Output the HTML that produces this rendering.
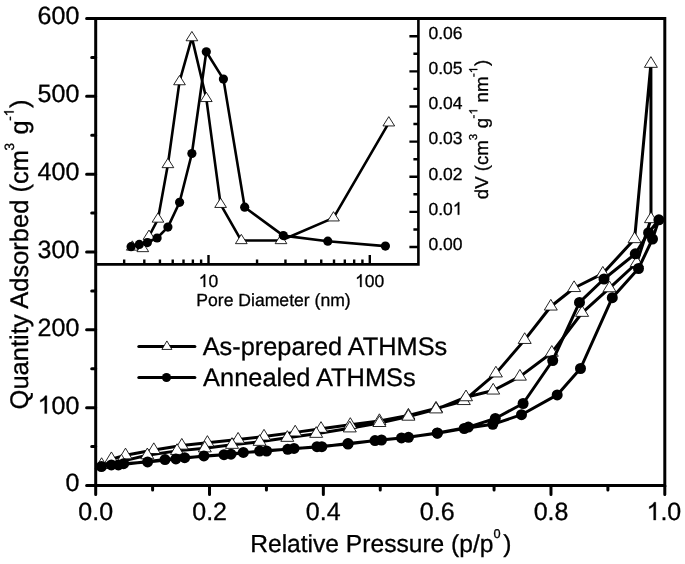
<!DOCTYPE html><html><head><meta charset="utf-8"><style>html,body{margin:0;padding:0;background:#fff;}svg{display:block;will-change:transform;}text{font-family:"Liberation Sans",sans-serif;fill:#000;stroke:#000;stroke-width:0.3px;text-rendering:geometricPrecision;}.h1{fill:none;stroke:none;}.g1{fill:#000;stroke:#000;stroke-width:0.3px;vector-effect:non-scaling-stroke;}</style></head><body>
<svg width="685" height="564" viewBox="0 0 685 564">
<rect width="685" height="564" fill="#fff"/>
<polyline fill="none" stroke="#000" stroke-width="3.0" stroke-linejoin="round" points="111.4,459.08 125.5,455.28 153.8,449.98 181.8,445.58 207.4,442.78 238.1,439.58 264,436.48 295.2,432.38 321,428.78 350.3,424.83 379.4,420.93 408.4,415.53 436,408.53 463.8,400.98 495.9,373.38 524.7,339.88 550.8,306.48 574.1,287.98 602.8,273.58 634.6,239.08 650.9,63.78 651,219.08 636.7,262.98 609.5,288.18 582.1,312.78 551.8,352.68 519.9,376.58 493.2,390.48 466,397.18 436,409.33 408.4,416.63 379.4,422.93 349.8,428.33 316.2,433.78 287.3,437.78 259.6,441.78 232,444.78 204.8,448.28 177,450.88 147.3,455.18 121.4,461.38 101.6,464.88"/>
<g><path d="M111.4 451.95L117.9 462.65L104.9 462.65Z" fill="#fff" stroke="#000" stroke-width="0.85"/><path d="M125.5 448.15L132 458.85L119 458.85Z" fill="#fff" stroke="#000" stroke-width="0.85"/><path d="M153.8 442.85L160.3 453.55L147.3 453.55Z" fill="#fff" stroke="#000" stroke-width="0.85"/><path d="M181.8 438.45L188.3 449.15L175.3 449.15Z" fill="#fff" stroke="#000" stroke-width="0.85"/><path d="M207.4 435.65L213.9 446.35L200.9 446.35Z" fill="#fff" stroke="#000" stroke-width="0.85"/><path d="M238.1 432.45L244.6 443.15L231.6 443.15Z" fill="#fff" stroke="#000" stroke-width="0.85"/><path d="M264 429.35L270.5 440.05L257.5 440.05Z" fill="#fff" stroke="#000" stroke-width="0.85"/><path d="M295.2 425.25L301.7 435.95L288.7 435.95Z" fill="#fff" stroke="#000" stroke-width="0.85"/><path d="M321 421.65L327.5 432.35L314.5 432.35Z" fill="#fff" stroke="#000" stroke-width="0.85"/><path d="M350.3 417.7L356.8 428.4L343.8 428.4Z" fill="#fff" stroke="#000" stroke-width="0.85"/><path d="M379.4 413.8L385.9 424.5L372.9 424.5Z" fill="#fff" stroke="#000" stroke-width="0.85"/><path d="M408.4 408.4L414.9 419.1L401.9 419.1Z" fill="#fff" stroke="#000" stroke-width="0.85"/><path d="M436 401.4L442.5 412.1L429.5 412.1Z" fill="#fff" stroke="#000" stroke-width="0.85"/><path d="M463.8 393.85L470.3 404.55L457.3 404.55Z" fill="#fff" stroke="#000" stroke-width="0.85"/><path d="M495.9 366.25L502.4 376.95L489.4 376.95Z" fill="#fff" stroke="#000" stroke-width="0.85"/><path d="M524.7 332.75L531.2 343.45L518.2 343.45Z" fill="#fff" stroke="#000" stroke-width="0.85"/><path d="M550.8 299.35L557.3 310.05L544.3 310.05Z" fill="#fff" stroke="#000" stroke-width="0.85"/><path d="M574.1 280.85L580.6 291.55L567.6 291.55Z" fill="#fff" stroke="#000" stroke-width="0.85"/><path d="M602.8 266.45L609.3 277.15L596.3 277.15Z" fill="#fff" stroke="#000" stroke-width="0.85"/><path d="M634.6 231.95L641.1 242.65L628.1 242.65Z" fill="#fff" stroke="#000" stroke-width="0.85"/><path d="M650.9 56.65L657.4 67.35L644.4 67.35Z" fill="#fff" stroke="#000" stroke-width="0.85"/><path d="M651 211.95L657.5 222.65L644.5 222.65Z" fill="#fff" stroke="#000" stroke-width="0.85"/><path d="M636.7 255.85L643.2 266.55L630.2 266.55Z" fill="#fff" stroke="#000" stroke-width="0.85"/><path d="M609.5 281.05L616 291.75L603 291.75Z" fill="#fff" stroke="#000" stroke-width="0.85"/><path d="M582.1 305.65L588.6 316.35L575.6 316.35Z" fill="#fff" stroke="#000" stroke-width="0.85"/><path d="M551.8 345.55L558.3 356.25L545.3 356.25Z" fill="#fff" stroke="#000" stroke-width="0.85"/><path d="M519.9 369.45L526.4 380.15L513.4 380.15Z" fill="#fff" stroke="#000" stroke-width="0.85"/><path d="M493.2 383.35L499.7 394.05L486.7 394.05Z" fill="#fff" stroke="#000" stroke-width="0.85"/><path d="M466 390.05L472.5 400.75L459.5 400.75Z" fill="#fff" stroke="#000" stroke-width="0.85"/><path d="M436 402.2L442.5 412.9L429.5 412.9Z" fill="#fff" stroke="#000" stroke-width="0.85"/><path d="M408.4 409.5L414.9 420.2L401.9 420.2Z" fill="#fff" stroke="#000" stroke-width="0.85"/><path d="M379.4 415.8L385.9 426.5L372.9 426.5Z" fill="#fff" stroke="#000" stroke-width="0.85"/><path d="M349.8 421.2L356.3 431.9L343.3 431.9Z" fill="#fff" stroke="#000" stroke-width="0.85"/><path d="M316.2 426.65L322.7 437.35L309.7 437.35Z" fill="#fff" stroke="#000" stroke-width="0.85"/><path d="M287.3 430.65L293.8 441.35L280.8 441.35Z" fill="#fff" stroke="#000" stroke-width="0.85"/><path d="M259.6 434.65L266.1 445.35L253.1 445.35Z" fill="#fff" stroke="#000" stroke-width="0.85"/><path d="M232 437.65L238.5 448.35L225.5 448.35Z" fill="#fff" stroke="#000" stroke-width="0.85"/><path d="M204.8 441.15L211.3 451.85L198.3 451.85Z" fill="#fff" stroke="#000" stroke-width="0.85"/><path d="M177 443.75L183.5 454.45L170.5 454.45Z" fill="#fff" stroke="#000" stroke-width="0.85"/><path d="M147.3 448.05L153.8 458.75L140.8 458.75Z" fill="#fff" stroke="#000" stroke-width="0.85"/><path d="M121.4 454.25L127.9 464.95L114.9 464.95Z" fill="#fff" stroke="#000" stroke-width="0.85"/><path d="M101.6 457.75L108.1 468.45L95.1 468.45Z" fill="#fff" stroke="#000" stroke-width="0.85"/></g>
<polyline fill="none" stroke="#000" stroke-width="3.0" stroke-linejoin="round" points="101.4,466.6 111.4,464.9 123.6,463.7 147.6,461.9 175.9,458.9 203.9,455.9 231,454.2 259.6,451 287.7,449.3 317,446.7 348,444 375,440.6 401.5,437.9 437.3,433.2 464.2,428.5 492.8,424.3 521.5,414.7 557.2,394.9 580.5,368.5 612.3,297.7 638.5,268.5 652.5,239 658.9,219.8 648.6,232.7 635.3,253.8 604,279 579.5,302.4 552.7,360.5 523.1,403.5 495.3,418.5 468.3,427.1 437.3,433 408.5,437.3 381.5,440 348,443.6 321.8,446.7 294,448.4 266.6,451 243.3,452.4 224,454.7 184.7,457.7 165,459.6 118.4,464.9"/>
<g><circle cx="101.4" cy="466.6" r="5.5"/><circle cx="111.4" cy="464.9" r="5.5"/><circle cx="123.6" cy="463.7" r="5.5"/><circle cx="147.6" cy="461.9" r="5.5"/><circle cx="175.9" cy="458.9" r="5.5"/><circle cx="203.9" cy="455.9" r="5.5"/><circle cx="231" cy="454.2" r="5.5"/><circle cx="259.6" cy="451" r="5.5"/><circle cx="287.7" cy="449.3" r="5.5"/><circle cx="317" cy="446.7" r="5.5"/><circle cx="348" cy="444" r="5.5"/><circle cx="375" cy="440.6" r="5.5"/><circle cx="401.5" cy="437.9" r="5.5"/><circle cx="437.3" cy="433.2" r="5.5"/><circle cx="464.2" cy="428.5" r="5.5"/><circle cx="492.8" cy="424.3" r="5.5"/><circle cx="521.5" cy="414.7" r="5.5"/><circle cx="557.2" cy="394.9" r="5.5"/><circle cx="580.5" cy="368.5" r="5.5"/><circle cx="612.3" cy="297.7" r="5.5"/><circle cx="638.5" cy="268.5" r="5.5"/><circle cx="652.5" cy="239" r="5.5"/><circle cx="658.9" cy="219.8" r="5.5"/><circle cx="648.6" cy="232.7" r="5.5"/><circle cx="635.3" cy="253.8" r="5.5"/><circle cx="604" cy="279" r="5.5"/><circle cx="579.5" cy="302.4" r="5.5"/><circle cx="552.7" cy="360.5" r="5.5"/><circle cx="523.1" cy="403.5" r="5.5"/><circle cx="495.3" cy="418.5" r="5.5"/><circle cx="468.3" cy="427.1" r="5.5"/><circle cx="437.3" cy="433" r="5.5"/><circle cx="408.5" cy="437.3" r="5.5"/><circle cx="381.5" cy="440" r="5.5"/><circle cx="348" cy="443.6" r="5.5"/><circle cx="321.8" cy="446.7" r="5.5"/><circle cx="294" cy="448.4" r="5.5"/><circle cx="266.6" cy="451" r="5.5"/><circle cx="243.3" cy="452.4" r="5.5"/><circle cx="224" cy="454.7" r="5.5"/><circle cx="184.7" cy="457.7" r="5.5"/><circle cx="165" cy="459.6" r="5.5"/><circle cx="118.4" cy="464.9" r="5.5"/></g>
<rect x="95.7" y="18.5" width="322.7" height="245.9" fill="#fff"/>
<polyline fill="none" stroke="#000" stroke-width="2.6" stroke-linejoin="round" points="132.3,247.05 142.8,248.55 149,236.25 158,219.05 167.9,164.55 179.5,81.65 191.9,37.65 206.3,98.45 220.6,204.35 241.3,240.55 281,240.55 333.5,217.85 388.8,122.85"/>
<g><path d="M132.3 240.85L138.15 250.15L126.45 250.15Z" fill="#fff" stroke="#000" stroke-width="0.85"/><path d="M142.8 242.35L148.65 251.65L136.95 251.65Z" fill="#fff" stroke="#000" stroke-width="0.85"/><path d="M149 230.05L154.85 239.35L143.15 239.35Z" fill="#fff" stroke="#000" stroke-width="0.85"/><path d="M158 212.85L163.85 222.15L152.15 222.15Z" fill="#fff" stroke="#000" stroke-width="0.85"/><path d="M167.9 158.35L173.75 167.65L162.05 167.65Z" fill="#fff" stroke="#000" stroke-width="0.85"/><path d="M179.5 75.45L185.35 84.75L173.65 84.75Z" fill="#fff" stroke="#000" stroke-width="0.85"/><path d="M191.9 31.45L197.75 40.75L186.05 40.75Z" fill="#fff" stroke="#000" stroke-width="0.85"/><path d="M206.3 92.25L212.15 101.55L200.45 101.55Z" fill="#fff" stroke="#000" stroke-width="0.85"/><path d="M220.6 198.15L226.45 207.45L214.75 207.45Z" fill="#fff" stroke="#000" stroke-width="0.85"/><path d="M241.3 234.35L247.15 243.65L235.45 243.65Z" fill="#fff" stroke="#000" stroke-width="0.85"/><path d="M281 234.35L286.85 243.65L275.15 243.65Z" fill="#fff" stroke="#000" stroke-width="0.85"/><path d="M333.5 211.65L339.35 220.95L327.65 220.95Z" fill="#fff" stroke="#000" stroke-width="0.85"/><path d="M388.8 116.65L394.65 125.95L382.95 125.95Z" fill="#fff" stroke="#000" stroke-width="0.85"/></g>
<polyline fill="none" stroke="#000" stroke-width="2.6" stroke-linejoin="round" points="131.1,246.7 139.3,244.4 147.4,242.6 157.1,238 167.9,227.1 179.6,202.3 191.9,153.5 206.3,51.8 223.4,79.1 244.7,207.2 283.3,235.6 327.8,241.2 385.4,246.1"/>
<g><circle cx="131.1" cy="246.7" r="4.6"/><circle cx="139.3" cy="244.4" r="4.6"/><circle cx="147.4" cy="242.6" r="4.6"/><circle cx="157.1" cy="238" r="4.6"/><circle cx="167.9" cy="227.1" r="4.6"/><circle cx="179.6" cy="202.3" r="4.6"/><circle cx="191.9" cy="153.5" r="4.6"/><circle cx="206.3" cy="51.8" r="4.6"/><circle cx="223.4" cy="79.1" r="4.6"/><circle cx="244.7" cy="207.2" r="4.6"/><circle cx="283.3" cy="235.6" r="4.6"/><circle cx="327.8" cy="241.2" r="4.6"/><circle cx="385.4" cy="246.1" r="4.6"/></g>
<path d="M95.7 264.4H418.4V18.5" fill="none" stroke="#000" stroke-width="2.6"/>
<path d="M124.16 264.4V259.4M144.31 264.4V259.4M159.94 264.4V259.4M172.72 264.4V259.4M183.51 264.4V259.4M192.87 264.4V259.4M201.12 264.4V259.4M208.5 264.4V254.9M257.06 264.4V259.4M285.46 264.4V259.4M305.61 264.4V259.4M321.24 264.4V259.4M334.02 264.4V259.4M344.81 264.4V259.4M354.17 264.4V259.4M362.42 264.4V259.4M369.8 264.4V254.9M418.4 247H409.4M418.4 229.44H413.4M418.4 211.87H409.4M418.4 194.31H413.4M418.4 176.74H409.4M418.4 159.18H413.4M418.4 141.61H409.4M418.4 124.04H413.4M418.4 106.48H409.4M418.4 88.91H413.4M418.4 71.35H409.4M418.4 53.78H413.4M418.4 36.22H409.4" stroke="#000" stroke-width="2.4" fill="none"/>
<rect x="95.7" y="18.5" width="569.1" height="467" fill="none" stroke="#000" stroke-width="3.0"/>
<path d="M95.7 485.5V494.5M152.61 485.5V489.9M209.52 485.5V494.5M266.43 485.5V489.9M323.34 485.5V494.5M380.25 485.5V489.9M437.16 485.5V494.5M494.07 485.5V489.9M550.98 485.5V494.5M607.89 485.5V489.9M664.8 485.5V494.5M95.7 485.5H86.6M95.7 446.58H91.7M95.7 407.67H86.6M95.7 368.75H91.7M95.7 329.83H86.6M95.7 290.92H91.7M95.7 252H86.6M95.7 213.08H91.7M95.7 174.17H86.6M95.7 135.25H91.7M95.7 96.33H86.6M95.7 57.42H91.7M95.7 18.5H86.6" stroke="#000" stroke-width="3" fill="none" stroke-linecap="round"/>
<path d="M138.9 346.5H194.8" stroke="#000" stroke-width="3.2" stroke-linecap="round"/>
<path d="M166.9 340.93L171.9 349.43L161.9 349.43Z" fill="#fff" stroke="#000" stroke-width="0.85"/>
<path d="M138.9 377.5H194.8" stroke="#000" stroke-width="3.2" stroke-linecap="round"/>
<circle cx="166.5" cy="377.5" r="4.6"/>
<text x="65.44" y="491.4" font-size="25">0</text>
<text x="37.58" y="413.57" font-size="25"><tspan class="h1">1</tspan>00</text>
<text x="37.58" y="335.73" font-size="25">200</text>
<text x="37.58" y="257.9" font-size="25">300</text>
<text x="37.58" y="180.07" font-size="25">400</text>
<text x="37.58" y="102.23" font-size="25">500</text>
<text x="37.58" y="24.4" font-size="25">600</text>
<text x="78.29" y="520.1" font-size="25">0.0</text>
<text x="192.26" y="520.1" font-size="25">0.2</text>
<text x="305.86" y="520.1" font-size="25">0.4</text>
<text x="419.8" y="520.1" font-size="25">0.6</text>
<text x="533.64" y="520.1" font-size="25">0.8</text>
<text x="646.52" y="520.1" font-size="25"><tspan class="h1">1</tspan>.0</text>
<text x="250.19" y="551.7" font-size="24.6">Relative Pressure (p/p</text>
<text x="493.46" y="537.7" font-size="12.8">0</text>
<text x="503.18" y="551.7" font-size="24.6">)</text>
<text transform="translate(27.8,409.43) rotate(-90)" font-size="25.5">Quantity Adsorbed (cm</text>
<text transform="translate(13.6,150.56) rotate(-90)" font-size="13.5">3</text>
<text transform="translate(27.8,134.42) rotate(-90)" font-size="25.5">g</text>
<text transform="translate(13.7,120.85) rotate(-90)" font-size="13.5">-<tspan class="h1">1</tspan></text>
<text transform="translate(27.8,107.91) rotate(-90)" font-size="25.5">)</text>
<text x="202.69" y="354.8" font-size="25.35">As-prepared ATHMSs</text>
<text x="203.09" y="386.4" font-size="25.4">Annealed ATHMSs</text>
<text x="428.45" y="249.8" font-size="17.5">0.00</text>
<text x="428.45" y="214.67" font-size="17.5">0.0<tspan class="h1">1</tspan></text>
<text x="428.45" y="179.54" font-size="17.5">0.02</text>
<text x="428.45" y="144.41" font-size="17.5">0.03</text>
<text x="428.45" y="109.28" font-size="17.5">0.04</text>
<text x="428.45" y="74.15" font-size="17.5">0.05</text>
<text x="428.45" y="39.02" font-size="17.5">0.06</text>
<text x="198.69" y="286.9" font-size="17.5"><tspan class="h1">1</tspan>0</text>
<text x="355.09" y="286.9" font-size="17.5"><tspan class="h1">1</tspan>00</text>
<text x="196.26" y="306.1" font-size="17.6">Pore Diameter (nm)</text>
<text transform="translate(487.6,199.21) rotate(-90)" font-size="18.6">dV (cm</text>
<text transform="translate(476.6,140.28) rotate(-90)" font-size="11.5">3</text>
<text transform="translate(487.6,128.27) rotate(-90)" font-size="18.6">g</text>
<text transform="translate(477.3,118.4) rotate(-90)" font-size="11.5">-<tspan class="h1">1</tspan></text>
<text transform="translate(487.6,102.41) rotate(-90)" font-size="18.6">nm</text>
<text transform="translate(477.3,77) rotate(-90)" font-size="11.5">-<tspan class="h1">1</tspan></text>
<text transform="translate(487.6,66.11) rotate(-90)" font-size="18.6">)</text>
<path class="g1" transform=" translate(37.58,413.57) scale(0.012207,-0.012207)" d="M763 0L583 0L583 1147C540 1106 483 1064 413 1023C343 982 280 951 223 930L223 1104C316 1148 397 1201 467 1264C537 1327 586 1388 615 1466L763 1466Z"/><path class="g1" transform=" translate(646.52,520.1) scale(0.012207,-0.012207)" d="M763 0L583 0L583 1147C540 1106 483 1064 413 1023C343 982 280 951 223 930L223 1104C316 1148 397 1201 467 1264C537 1327 586 1388 615 1466L763 1466Z"/><path class="g1" transform="translate(13.7,120.85) rotate(-90) translate(4.5,0) scale(0.006592,-0.006592)" d="M763 0L583 0L583 1147C540 1106 483 1064 413 1023C343 982 280 951 223 930L223 1104C316 1148 397 1201 467 1264C537 1327 586 1388 615 1466L763 1466Z"/><path class="g1" transform=" translate(452.78,214.67) scale(0.008545,-0.008545)" d="M763 0L583 0L583 1147C540 1106 483 1064 413 1023C343 982 280 951 223 930L223 1104C316 1148 397 1201 467 1264C537 1327 586 1388 615 1466L763 1466Z"/><path class="g1" transform=" translate(198.69,286.9) scale(0.008545,-0.008545)" d="M763 0L583 0L583 1147C540 1106 483 1064 413 1023C343 982 280 951 223 930L223 1104C316 1148 397 1201 467 1264C537 1327 586 1388 615 1466L763 1466Z"/><path class="g1" transform=" translate(355.09,286.9) scale(0.008545,-0.008545)" d="M763 0L583 0L583 1147C540 1106 483 1064 413 1023C343 982 280 951 223 930L223 1104C316 1148 397 1201 467 1264C537 1327 586 1388 615 1466L763 1466Z"/><path class="g1" transform="translate(477.3,118.4) rotate(-90) translate(3.84,0) scale(0.005615,-0.005615)" d="M763 0L583 0L583 1147C540 1106 483 1064 413 1023C343 982 280 951 223 930L223 1104C316 1148 397 1201 467 1264C537 1327 586 1388 615 1466L763 1466Z"/><path class="g1" transform="translate(477.3,77) rotate(-90) translate(3.84,0) scale(0.005615,-0.005615)" d="M763 0L583 0L583 1147C540 1106 483 1064 413 1023C343 982 280 951 223 930L223 1104C316 1148 397 1201 467 1264C537 1327 586 1388 615 1466L763 1466Z"/>
</svg></body></html>
